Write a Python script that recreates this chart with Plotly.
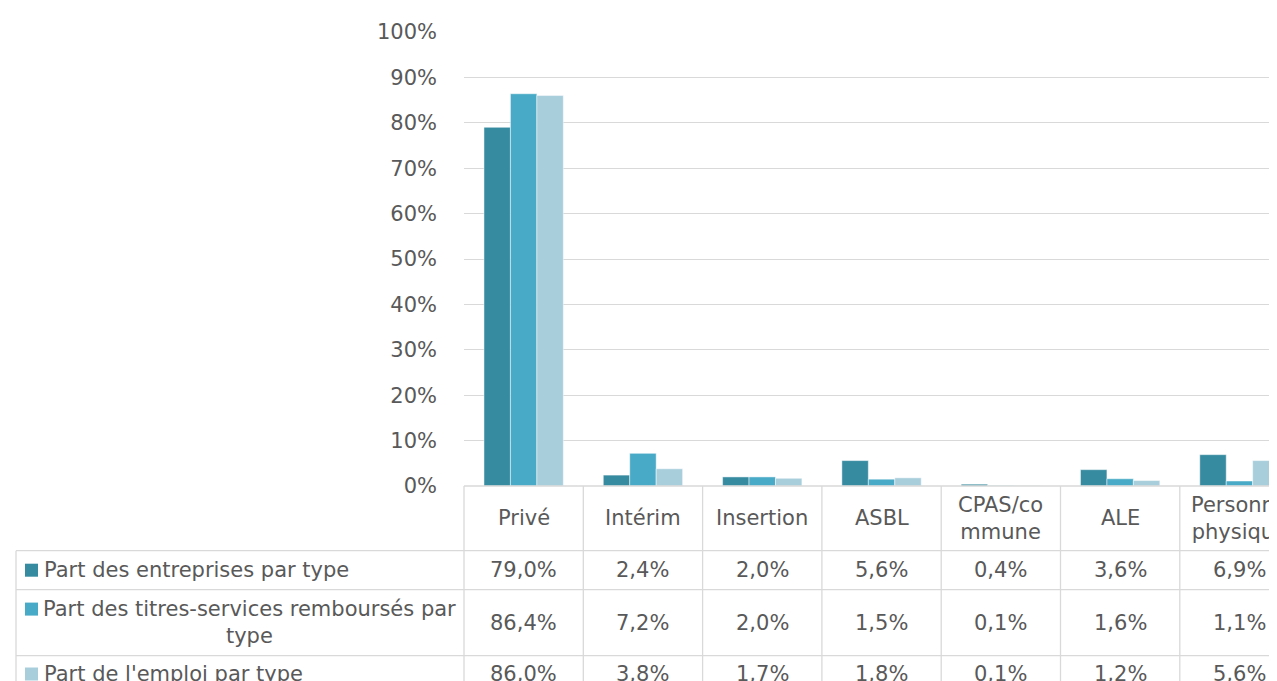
import plotly.graph_objects as go

# ---- data ----
categories = ["Privé", "Intérim", "Insertion", "ASBL", "CPAS/co<br>mmune", "ALE", "Personne<br>physique"]
series_names = [
    "Part des entreprises par type",
    "Part des titres-services remboursés par<br>type",
    "Part de l'emploi par type",
]
entreprises = [79.0, 2.4, 2.0, 5.6, 0.4, 3.6, 6.9]
titres = [86.4, 7.2, 2.0, 1.5, 0.1, 1.6, 1.1]
emploi = [86.0, 3.8, 1.7, 1.8, 0.1, 1.2, 5.6]
y_ticks = [0, 10, 20, 30, 40, 50, 60, 70, 80, 90, 100]
y_tick_labels = [f"{v}%" for v in y_ticks]

series_values = [entreprises, titres, emploi]
colors = ["#378BA0", "#48AAC6", "#A8CEDC"]

W, H = 1277, 681
PL, PR, PT, PB = 456, 1277, 24, 478
CAT_W = 119.3
FONT = "DejaVu Sans"
TXT = "#595959"
GRID = "#D9D9D9"

x_idx = list(range(len(categories)))
x_range = [-0.5, -0.5 + (PR - PL) / CAT_W]


def px_x(X):
    return (X - PL) / (PR - PL)


def px_y(Y):
    return (PB - Y) / (PB - PT)


def cat_to_paper(c):
    return (c - x_range[0]) / (x_range[1] - x_range[0])


fig = go.Figure()
for name, vals, col in zip(series_names, series_values, colors):
    fig.add_trace(go.Bar(
        x=x_idx, y=vals, name=name.replace("<br>", " "),
        marker=dict(color=col, line=dict(color="rgba(255,255,255,0.6)", width=0.8)),
        hoverinfo="skip",
    ))

# ---- table geometry ----
header_top, header_bot = 478, 542.7
row_edges = [542.7, 581.7, 647.7, 686.7]
left_x = 8
shapes = []
line = dict(color=GRID, width=1.3)
# horizontal lines
shapes.append(dict(type="line", xref="paper", yref="paper", x0=0, x1=1,
                   y0=px_y(header_top), y1=px_y(header_top), line=line))
for ye in row_edges[:3]:
    shapes.append(dict(type="line", xref="paper", yref="paper", x0=px_x(left_x), x1=1,
                       y0=px_y(ye), y1=px_y(ye), line=line))
# vertical lines
for k in range(len(categories)):
    xb = cat_to_paper(k - 0.5)
    if xb <= 1:
        shapes.append(dict(type="line", xref="paper", yref="paper", x0=xb, x1=xb,
                           y0=px_y(header_top), y1=px_y(H + 10), line=line))
shapes.append(dict(type="line", xref="paper", yref="paper", x0=px_x(left_x), x1=px_x(left_x),
                   y0=px_y(row_edges[0]), y1=px_y(H + 10), line=line))

annotations = []
font = dict(family=FONT, size=21, color=TXT)
# header labels
hc = (header_top + header_bot) / 2
for k, c in enumerate(categories):
    annotations.append(dict(x=k, xref="x", y=px_y(hc), yref="paper", text=c, showarrow=False,
                            xanchor="center", yanchor="middle", font=font, align="center"))
# rows
for r, (name, vals, col) in enumerate(zip(series_names, series_values, colors)):
    yc = (row_edges[r] + row_edges[r + 1]) / 2
    if r == 2:
        yc = 666
    for k, v in enumerate(vals):
        annotations.append(dict(x=k, xref="x", y=px_y(yc), yref="paper",
                                text=f"{v:.1f}%".replace(".", ","), showarrow=False,
                                xanchor="center", yanchor="middle", font=font))
    if "<br>" in name:
        annotations.append(dict(x=px_x(241.5), xref="paper", y=px_y(yc), yref="paper", text=name,
                                showarrow=False, xanchor="center", yanchor="middle", font=font,
                                align="center"))
        sq_c = yc - 13.6
    else:
        annotations.append(dict(x=px_x(34), xref="paper", y=px_y(yc), yref="paper", text=name,
                                showarrow=False, xanchor="left", yanchor="middle", font=font))
        sq_c = yc
    shapes.append(dict(type="rect", xref="paper", yref="paper", x0=px_x(17), x1=px_x(30),
                       y0=px_y(sq_c + 6.5), y1=px_y(sq_c - 6.5), fillcolor=col,
                       line=dict(width=0)))

fig.update_layout(
    width=W, height=H, autosize=False,
    margin=dict(l=PL, r=W - PR, t=PT, b=H - PB, pad=0),
    paper_bgcolor="white", plot_bgcolor="white",
    barmode="group", bargap=0.335, bargroupgap=0,
    showlegend=False,
    font=dict(family=FONT, size=21, color=TXT),
    xaxis=dict(range=x_range, showticklabels=False, showgrid=False, zeroline=False,
               showline=False, ticks=""),
    yaxis=dict(range=[0, 100], tickmode="array", tickvals=y_ticks, ticktext=y_tick_labels,
               showgrid=True, gridcolor=GRID, gridwidth=1.3, zeroline=False, showline=False,
               ticks="", ticklabelstandoff=26,
               tickfont=dict(family=FONT, size=21, color=TXT)),
    shapes=shapes,
    annotations=annotations,
)

fig.write_html("out.html")
